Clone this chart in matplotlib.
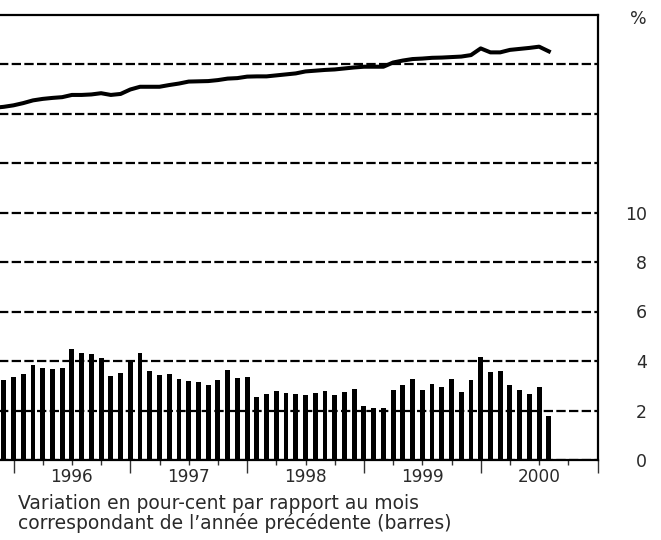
import matplotlib
matplotlib.use("Agg")
import matplotlib.pyplot as plt
import numpy as np

plt.rcParams['font.family'] = ['DejaVu Sans']

# ---- data ----
bar_start = (1995, 12)   # first bar month
bar_values = [3.23,
              3.36, 3.48, 3.85, 3.72, 3.68, 3.72, 4.49, 4.32, 4.28, 4.12, 3.39, 3.51,
              3.96, 4.32, 3.59, 3.43, 3.47, 3.27, 3.19, 3.15, 3.03, 3.23, 3.64, 3.31,
              3.35, 2.54, 2.67, 2.79, 2.71, 2.67, 2.63, 2.72, 2.79, 2.63, 2.75, 2.87,
              2.18, 2.10, 2.10, 2.83, 3.03, 3.27, 2.83, 3.07, 2.95, 3.27, 2.75, 3.23,
              4.16, 3.56, 3.60, 3.03, 2.83, 2.67, 2.95, 1.78]

line_start = (1995, 11)
line_values = [14.23, 14.27,
               14.33, 14.42, 14.53, 14.59, 14.63, 14.66, 14.75, 14.75, 14.77, 14.82, 14.75, 14.79,
               14.97, 15.08, 15.08, 15.08, 15.15, 15.21, 15.29, 15.30, 15.31, 15.35, 15.41, 15.43,
               15.49, 15.50, 15.50, 15.54, 15.58, 15.62, 15.70, 15.73, 15.76, 15.78, 15.82, 15.86,
               15.89, 15.89, 15.89, 16.06, 16.14, 16.20, 16.22, 16.25, 16.26, 16.28, 16.30, 16.36,
               16.63, 16.47, 16.47, 16.57, 16.61, 16.65, 16.70, 16.51]

years = [1995, 1996, 1997, 1998, 1999, 2000]
year_labels = ['', '1996', '1997', '1998', '1999', '2000']
y_ticks = [0, 2, 4, 6, 8, 10, 12, 14, 16]
y_labels = ['0', '2', '4', '6', '8', '10', '', '', '']
unit_label = '%'
note_line1 = "Variation en pour-cent par rapport au mois"
note_line2 = "correspondant de l\u2019ann\u00e9e pr\u00e9c\u00e9dente (barres)"


def month_positions(start, n):
    y0, m0 = start
    idx = np.arange(n)
    return y0 + (m0 - 1 + idx) / 12.0


bx = month_positions(bar_start, len(bar_values))
lx = month_positions(line_start, len(line_values))

fig = plt.figure(figsize=(6.61, 5.40), dpi=100)
W, H = 661.0, 540.0
right_px = 597.5
px_per_year = 116.8
x_min, x_max = 1995.0, 2001.0
left_px = right_px - (x_max - x_min) * px_per_year
bottom_px, top_px = 460.0, 14.5
ax = fig.add_axes([left_px / W, (H - bottom_px) / H,
                   (right_px - left_px) / W, (bottom_px - top_px) / H])

ax.set_xlim(x_min, x_max)
ax.set_ylim(0, 18)

txt = '#2a2a2a'
ax.set_axisbelow(True)
ax.bar(bx, bar_values, width=0.5 / 12, color='black', align='center', zorder=2)
ax.plot(lx, line_values, color='black', lw=2.9, solid_joinstyle='round', zorder=3)

# y axis on the right, labels only
ax.set_yticks(y_ticks)
ax.set_yticklabels(y_labels)
ax.yaxis.tick_right()
ax.tick_params(axis='y', length=0, pad=35.5, labelsize=12.5, colors=txt)
for lab in ax.get_yticklabels():
    lab.set_horizontalalignment('right')
ax.yaxis.grid(True, color='black', lw=1.6, linestyle=(0, (4.2, 1.5)))

# x axis: long ticks at year boundaries, short at quarters, labels mid-year
major = [y for y in years] + [2001]
ax.set_xticks(major)
ax.set_xticklabels([''] * len(major))
minor_pos = []
minor_lab = []
for y, lab in zip(years, year_labels):
    minor_pos += [y + 0.25, y + 0.5, y + 0.75]
    minor_lab += ['', lab, '']
ax.set_xticks(minor_pos, minor=True)
ax.set_xticklabels(minor_lab, minor=True)
ax.tick_params(axis='x', which='major', length=9.4, width=1.0, color='#333333')
ax.tick_params(axis='x', which='minor', length=3.6, width=1.0, color='#333333',
               pad=2.2, labelsize=12.2, labelcolor=txt)

for side in ['top', 'right', 'bottom']:
    ax.spines[side].set_linewidth(1.6)
    ax.spines[side].set_color('black')
ax.spines['left'].set_visible(False)

fig.text(646.5 / W, (H - 19) / H, unit_label, ha='right', va='center',
         fontsize=12.5, color=txt)
fig.text(18 / W, (H - 508.7) / H, note_line1, ha='left', va='baseline',
         fontsize=13.5, color=txt)
fig.text(18 / W, (H - 528.7) / H, note_line2, ha='left', va='baseline',
         fontsize=13.5, color=txt)

fig.savefig('out.png', dpi=100)
